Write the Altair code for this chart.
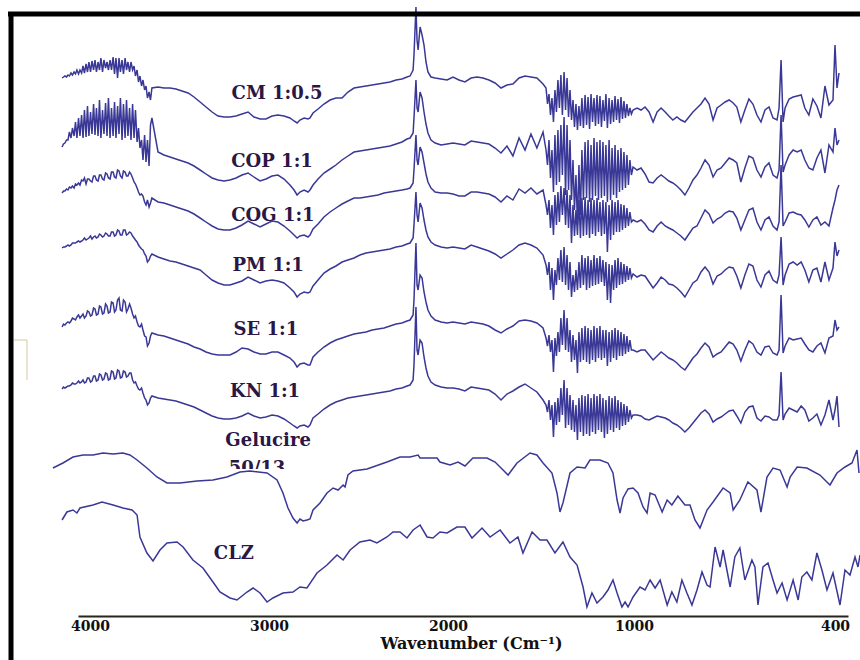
import altair as alt
import pandas as pd

# ---------------- data ----------------
# shared wavenumber grid (cm-1) for the six upper (stacked) spectra
wn_upper = [
    # 4160-3650 (noisy O-H region)
    4156, 4148, 4140, 4131, 4123, 4115, 4106, 4098, 4089, 4081, 4073, 4064, 4056, 4047, 4039, 4031,
    4022, 4014, 4006, 3997, 3989, 3980, 3972, 3964, 3955, 3947, 3939, 3930, 3922, 3913, 3905, 3897,
    3888, 3880, 3871, 3863, 3855, 3846, 3838, 3830, 3821, 3813, 3804, 3796, 3788, 3779, 3771, 3762,
    3754, 3746, 3737, 3729, 3721, 3712, 3704, 3695, 3687, 3679, 3670, 3662, 3654,
    # 3650-2210
    3620, 3587, 3553, 3520, 3486, 3452, 3419, 3385, 3352, 3318, 3285, 3251, 3218, 3184, 3151, 3117,
    3084, 3050, 3017, 2983, 2950, 2916, 2883, 2860, 2843, 2827, 2804, 2782, 2771, 2754, 2726, 2693,
    2659, 2626, 2592, 2559, 2525, 2492, 2458, 2424, 2391, 2357, 2324, 2290, 2257, 2229, 2212,
    # nitrile band
    2195, 2190, 2179, 2173, 2167, 2156, 2145, 2134, 2123, 2112, 2095, 2072,
    # 2040-1490
    2039, 2005, 1973, 1941, 1909, 1876, 1844, 1812, 1780, 1747, 1715, 1683, 1651, 1618, 1586, 1554,
    1522, 1489,
    # 1475-1005 (noisy fingerprint)
    1473, 1465, 1457, 1449, 1441, 1433, 1425, 1417, 1409, 1401, 1393, 1385, 1376, 1368, 1360, 1352,
    1344, 1336, 1328, 1320, 1312, 1304, 1296, 1288, 1280, 1272, 1263, 1255, 1247, 1239, 1231, 1223,
    1215, 1207, 1199, 1191, 1183, 1175, 1167, 1159, 1151, 1143, 1134, 1126, 1118, 1110, 1102, 1094,
    1086, 1078, 1070, 1062, 1054, 1046, 1038, 1030, 1022, 1014, 1005,
    # 1000-388
    991, 979, 967, 955, 943, 931, 919, 907, 896, 884, 872, 860, 848, 836, 824, 812, 800, 788, 776,
    764, 752, 740, 728, 716, 704, 693, 681, 669, 657, 645, 633, 621, 609, 597, 585, 573,
    567, 561, 555, 549,
    537, 525, 513, 501, 490, 478, 466, 454, 442, 430, 418, 406,
    400, 394, 388,
]

# stacked absorbance-like values (arbitrary units, larger = lower on the page)
cm_05 = [
    78, 77, 76, 77, 75, 76, 73, 75, 72, 74, 70, 74, 70, 73, 66, 73, 64, 72, 62, 72, 61, 70, 60, 72,
    62, 70, 58, 72, 60, 68, 62, 70, 60, 70, 57, 74, 58, 78, 58, 72, 60, 74, 58, 70, 62, 72, 62, 70,
    66, 76, 70, 82, 76, 86, 80, 90, 86, 98, 92, 100, 88,
    87, 88, 88, 89, 91, 93, 97, 102, 107, 112, 116, 117, 117, 116, 114, 112, 117, 119, 119, 116,
    115, 116, 118, 121, 123, 120, 118, 119, 118, 113, 109, 104, 100, 98, 98, 92, 88, 87, 86, 85,
    84, 83, 82, 80, 79, 77, 76,
    70, 55, 7, 40, 50, 27, 35, 45, 62, 72, 77, 78,
    79, 80, 77, 80, 82, 78, 77, 78, 80, 83, 88, 85, 84, 78, 76, 77, 78, 84,
    88, 104, 94, 115, 98, 122, 90, 112, 80, 108, 75, 115, 72, 110, 78, 117, 90, 120, 100, 127,
    104, 130, 106, 126, 98, 128, 95, 125, 97, 129, 94, 122, 98, 126, 95, 124, 96, 127, 100, 121,
    94, 128, 98, 124, 100, 122, 96, 120, 99, 123, 97, 119, 101, 118, 104, 116, 108, 114, 110,
    108, 110, 107, 112, 122, 112, 108, 112, 116, 120, 117, 120, 122, 117, 112, 108, 104, 98, 104,
    120, 108, 105, 102, 100, 103, 107, 122, 110, 99, 104, 115, 122, 110, 107, 118, 120,
    108, 60, 122, 108,
    99, 97, 96, 95, 108, 115, 99, 106, 118, 86, 105, 100,
    45, 88, 73,
]
cop_11 = [
    147, 144, 143, 140, 140, 132, 138, 128, 136, 122, 138, 118, 136, 115, 138, 110, 137, 106, 136,
    112, 134, 104, 135, 108, 136, 100, 138, 110, 134, 103, 136, 98, 138, 108, 136, 102, 138, 106,
    134, 98, 140, 104, 138, 100, 136, 108, 140, 104, 138, 110, 142, 128, 148, 140, 160, 135, 162,
    140, 166, 125, 118,
    152, 155, 157, 159, 161, 163, 166, 170, 174, 178, 180, 181, 180, 178, 175, 173, 177, 181, 179,
    176, 175, 179, 185, 190, 195, 192, 190, 192, 190, 185, 179, 173, 169, 165, 160, 156, 152, 151,
    150, 149, 148, 147, 146, 144, 142, 139, 138,
    133, 118, 80, 108, 112, 92, 98, 112, 124, 133, 140, 143,
    145, 144, 143, 144, 145, 141, 142, 143, 144, 148, 153, 146, 156, 138, 150, 134, 148, 132,
    150, 165, 140, 178, 150, 192, 135, 185, 130, 182, 125, 175, 117, 195, 125, 190, 140, 200, 160,
    210, 175, 225, 165, 215, 150, 200, 142, 198, 140, 202, 145, 200, 138, 196, 142, 200, 140, 198,
    142, 196, 145, 202, 140, 200, 148, 195, 145, 198, 150, 192, 148, 190, 152, 188, 155, 185, 160,
    175, 167,
    170, 168, 174, 182, 183, 178, 175, 178, 181, 183, 186, 190, 195, 188, 180, 175, 168, 160, 165,
    177, 170, 168, 163, 158, 160, 163, 182, 168, 156, 158, 170, 177, 167, 163, 175, 178,
    170, 115, 172, 165,
    155, 150, 152, 150, 160, 168, 170, 158, 150, 173, 145, 152,
    128, 145, 140,
]
cog_11 = [
    193, 191, 191, 189, 190, 187, 188, 186, 188, 184, 185, 183, 185, 180, 181, 178, 184, 179, 179,
    181, 182, 176, 176, 180, 181, 175, 175, 179, 180, 173, 174, 178, 179, 172, 172, 177, 178, 170,
    171, 176, 178, 171, 172, 176, 176, 172, 174, 178, 182, 184, 188, 192, 195, 194, 196, 202, 205,
    200, 207, 203, 198,
    202, 203, 205, 207, 209, 211, 214, 218, 222, 226, 229, 230, 230, 228, 225, 221, 224, 227, 224,
    221, 222, 226, 231, 235, 238, 236, 235, 237, 235, 229, 224, 217, 212, 208, 204, 201, 198, 198,
    197, 196, 195, 193, 192, 191, 190, 189, 188,
    183, 170, 135, 160, 165, 147, 152, 163, 174, 182, 188, 192,
    193, 193, 194, 196, 196, 192, 192, 193, 194, 197, 202, 196, 200, 189, 193, 188, 194, 190,
    205, 215, 200, 228, 205, 235, 195, 225, 192, 222, 186, 215, 188, 225, 190, 228, 195, 243, 205,
    236, 210, 235, 200, 238, 198, 236, 197, 235, 200, 238, 198, 234, 200, 236, 198, 232, 202, 236,
    200, 234, 202, 252, 205, 240, 200, 235, 202, 232, 200, 232, 204, 230, 205, 228, 208, 226, 212,
    222, 220,
    222, 220, 224, 230, 232, 226, 222, 226, 228, 230, 233, 236, 240, 234, 228, 226, 218, 210, 214,
    223, 219, 217, 213, 211, 212, 218, 230, 220, 210, 208, 222, 230, 220, 217, 226, 230,
    222, 165, 226, 222,
    213, 212, 214, 215, 220, 227, 220, 217, 225, 222, 226, 208,
    200, 190, 185,
]
pm_11 = [
    248, 247, 247, 246, 245, 246, 245, 243, 243, 243, 242, 241, 242, 241, 240, 238, 240, 239, 238,
    236, 239, 237, 236, 238, 237, 234, 235, 237, 236, 233, 234, 236, 236, 232, 232, 236, 235, 230,
    231, 235, 235, 230, 230, 235, 234, 232, 233, 236, 238, 240, 242, 245, 247, 249, 250, 254, 256,
    262, 260, 256, 254,
    257, 259, 261, 262, 264, 266, 268, 270, 275, 280, 283, 285, 285, 283, 281, 277, 280, 283, 281,
    280, 281, 283, 288, 292, 297, 294, 292, 293, 292, 286, 280, 273, 269, 266, 262, 260, 258, 255,
    253, 252, 251, 250, 249, 247, 246, 244, 243,
    238, 225, 192, 215, 222, 203, 208, 220, 230, 237, 242, 245,
    247, 248, 247, 248, 249, 245, 247, 249, 251, 254, 258, 254, 250, 245, 243, 245, 248, 255,
    265, 275, 262, 290, 268, 300, 270, 285, 258, 280, 250, 282, 247, 285, 255, 290, 262, 297, 275,
    292, 270, 290, 262, 288, 255, 285, 258, 290, 256, 288, 260, 286, 255, 285, 258, 284, 256, 282,
    260, 286, 262, 300, 264, 303, 265, 290, 260, 288, 258, 285, 262, 284, 264, 282, 266, 280, 268,
    278, 274,
    277, 275, 276, 282, 288, 283, 277, 280, 284, 285, 288, 292, 297, 290, 283, 280, 272, 267, 272,
    284, 276, 274, 270, 267, 268, 276, 288, 275, 264, 266, 280, 287, 275, 271, 280, 283,
    275, 237, 285, 275,
    264, 262, 265, 262, 270, 282, 270, 268, 282, 262, 280, 268,
    242, 256, 250,
]
se_11 = [
    327, 324, 325, 323, 322, 323, 321, 318, 319, 320, 317, 315, 318, 316, 314, 318, 316, 311, 312,
    316, 315, 308, 309, 315, 314, 306, 307, 314, 313, 304, 306, 313, 312, 302, 303, 312, 310, 300,
    298, 310, 311, 300, 302, 312, 309, 304, 308, 314, 318, 316, 322, 326, 327, 324, 330, 336, 337,
    346, 343, 336, 333,
    335, 336, 338, 340, 342, 344, 347, 349, 352, 354, 355, 355, 355, 352, 348, 349, 352, 354, 354,
    352, 352, 355, 358, 362, 367, 364, 363, 365, 365, 357, 352, 347, 343, 340, 338, 336, 334, 333,
    332, 330, 329, 328, 326, 324, 323, 321, 320,
    315, 300, 243, 285, 290, 275, 278, 292, 302, 310, 316, 320,
    322, 323, 322, 323, 324, 322, 323, 324, 326, 330, 333, 329, 326, 321, 320, 321, 323, 328,
    338, 346, 335, 352, 340, 372, 338, 356, 332, 352, 318, 345, 310, 350, 318, 352, 330, 362, 335,
    360, 340, 373, 332, 362, 328, 360, 326, 362, 328, 364, 330, 360, 326, 362, 328, 358, 326, 360,
    330, 358, 330, 366, 332, 362, 330, 358, 328, 360, 330, 356, 332, 356, 334, 354, 336, 352, 340,
    350, 350,
    352, 350, 350, 355, 360, 356, 352, 355, 358, 360, 363, 367, 370, 364, 358, 354, 348, 343, 347,
    357, 354, 352, 347, 342, 344, 350, 361, 350, 341, 344, 352, 355, 347, 346, 353, 355,
    350, 295, 353, 346,
    338, 340, 339, 338, 344, 350, 352, 346, 343, 353, 338, 336,
    320, 330, 327,
]
kn_11 = [
    389, 387, 388, 387, 386, 386, 385, 383, 384, 384, 383, 381, 383, 382, 380, 383, 382, 378, 378,
    382, 381, 376, 376, 381, 380, 374, 375, 380, 379, 373, 374, 380, 379, 371, 372, 379, 378, 370,
    371, 378, 377, 371, 372, 377, 376, 373, 373, 380, 383, 382, 386, 389, 390, 388, 393, 398, 400,
    405, 403, 398, 396,
    398, 399, 400, 401, 403, 405, 407, 410, 413, 416, 418, 419, 419, 418, 416, 413, 416, 418, 417,
    415, 416, 419, 423, 426, 428, 426, 425, 427, 425, 418, 414, 409, 405, 402, 400, 398, 397, 396,
    395, 394, 393, 392, 391, 389, 388, 386, 385,
    380, 365, 307, 350, 355, 340, 343, 357, 368, 376, 382, 385,
    387, 388, 388, 389, 391, 387, 388, 389, 390, 394, 400, 394, 391, 387, 384, 388, 392, 400,
    405, 412, 400, 420, 405, 437, 402, 425, 398, 422, 388, 415, 380, 428, 388, 425, 395, 430, 400,
    432, 405, 440, 398, 432, 395, 436, 396, 434, 394, 436, 398, 432, 394, 434, 396, 430, 394, 432,
    398, 438, 400, 434, 396, 430, 398, 432, 396, 428, 400, 430, 402, 426, 404, 425, 406, 422, 410,
    418, 415,
    415, 416, 419, 420, 418, 416, 417, 418, 420, 423, 425, 428, 432, 428, 423, 418, 413, 410, 414,
    422, 419, 417, 414, 411, 410, 416, 423, 412, 407, 406, 418, 421, 416, 417, 420, 420,
    415, 372, 420, 414,
    408, 410, 412, 406, 410, 421, 418, 414, 425, 415, 400, 420,
    410, 396, 427,
]

wn_gelucire = [
    4207, 4151, 4095, 4039, 3983, 3927, 3871, 3816, 3777, 3737, 3682, 3626, 3570, 3497, 3402, 3313,
    3235, 3162, 3106, 3011, 2955, 2922, 2894, 2866, 2843, 2827, 2810, 2788, 2771, 2754, 2715, 2676,
    2642, 2614, 2586, 2575, 2559, 2531, 2452, 2341, 2268, 2212, 2167, 2156, 2117, 2061, 2045, 1989,
    1946, 1909, 1866, 1790, 1747, 1704, 1677, 1629, 1559, 1522, 1489, 1441, 1414, 1398, 1382, 1344,
    1306, 1263, 1237, 1183, 1140, 1113, 1091, 1075, 1059, 1032, 1005, 988, 973, 961, 952, 937, 916,
    901, 887, 869, 848, 833, 818, 803, 782, 764, 734, 713, 704, 684, 660, 633, 621, 603, 585, 564,
    543, 534, 513, 484, 445, 415, 394, 370, 349, 334, 328,
]
gelucire_50_13 = [
    468, 463, 457, 455, 455, 453, 454, 453, 455, 460, 468, 477, 483, 483, 481, 480,
    477, 472, 471, 473, 480, 493, 508, 518, 523, 519, 521, 520, 519, 510, 503, 493,
    488, 490, 485, 487, 475, 471, 469, 462, 457, 457, 455, 458, 458, 458, 462, 465,
    462, 466, 458, 458, 462, 470, 475, 463, 453, 455, 463, 473, 493, 512, 503, 473,
    467, 468, 460, 460, 463, 473, 500, 513, 498, 489, 488, 493, 507, 513, 493, 495, 512,
    500, 505, 496, 505, 505, 520, 528, 510, 502, 488, 493, 510, 500, 482, 490, 512, 477, 468, 470,
    487, 477, 467, 468, 475, 485, 473, 467, 463, 450, 473,
]

wn_clz = [
    4156, 4129, 4095, 4073, 4056, 3983, 3933, 3871, 3816, 3765, 3737, 3721, 3682, 3648, 3609, 3570,
    3514, 3480, 3425, 3369, 3313, 3274, 3218, 3179, 3123, 3089, 3050, 3011, 2978, 2922, 2866, 2827,
    2788, 2732, 2676, 2620, 2586, 2547, 2492, 2436, 2397, 2341, 2307, 2268, 2229, 2195, 2156, 2117,
    2084, 2045, 2005, 1952, 1909, 1871, 1817, 1774, 1720, 1667, 1624, 1597, 1548, 1505, 1468, 1425,
    1382, 1344, 1306, 1274, 1253, 1226, 1199, 1167, 1140, 1113, 1091, 1065, 1048, 1032, 1005, 982,
    967, 952, 937, 922, 901, 887, 872, 857, 842, 827, 812, 797, 782, 773, 758, 743, 734, 713, 699,
    684, 669, 648, 639, 630, 615, 600, 585, 573, 558, 543, 525, 510, 499, 484, 469, 454, 439, 424,
    406, 385, 370, 355, 340, 331, 325,
]
clz = [
    520, 512, 510, 513, 508, 505, 502, 505, 508, 510, 515, 537, 553, 561, 550, 543,
    542, 547, 560, 568, 582, 592, 598, 600, 592, 588, 593, 602, 598, 593, 592, 587,
    588, 573, 565, 555, 560, 550, 542, 540, 543, 537, 532, 532, 538, 530, 525, 537,
    538, 532, 533, 527, 527, 538, 528, 537, 530, 543, 537, 553, 532, 540, 540, 553,
    542, 557, 565, 587, 607, 593, 603, 597, 590, 580, 593, 607, 602, 607, 597, 587,
    590, 580, 588, 580, 605, 592, 602, 580, 593, 605, 590, 572, 585, 587, 547, 567, 550, 587, 557,
    548, 580, 560, 567, 605, 567, 563, 580, 593, 583, 600, 580, 600, 577, 572, 580, 553, 570, 590,
    573, 605, 570, 575, 557, 567, 555,
]

# sample labels placed beside the curves
label_text = ["CM 1:0.5", "COP 1:1", "COG 1:1", "PM 1:1", "SE 1:1", "KN 1:1", "Gelucire", "50/13", "CLZ"]
label_wn = [2955, 2983, 2978, 3005, 3017, 3022, 3005, 3067, 3196]
label_pos = [94, 162, 216, 266, 330, 392, 441, 469, 554]

tick_values = [4000, 3000, 2000, 1000, 400]

# ---------------- build table ----------------
series = [
    ("CM 1:0.5", wn_upper, cm_05),
    ("COP 1:1", wn_upper, cop_11),
    ("COG 1:1", wn_upper, cog_11),
    ("PM 1:1", wn_upper, pm_11),
    ("SE 1:1", wn_upper, se_11),
    ("KN 1:1", wn_upper, kn_11),
    ("Gelucire 50/13", wn_gelucire, gelucire_50_13),
    ("CLZ", wn_clz, clz),
]
frames = [pd.DataFrame({"wavenumber": w, "absorbance": v, "sample": n}) for n, w, v in series]
df = pd.concat(frames, ignore_index=True)
labels = pd.DataFrame({"wavenumber": label_wn, "absorbance": label_pos, "text": label_text})

LINE = "#3a3896"
SERIF = "DejaVu Serif"

x_scale = alt.Scale(domain=[4067, 4000, 2000, 1000, 400, 361],
                    range=[0, 12, 370, 556, 757, 770], nice=False, zero=False)
y_scale = alt.Scale(domain=[0, 616], reverse=True, nice=False, zero=False)

x_axis = alt.Axis(values=tick_values, format="d", grid=False, ticks=False,
                  labelFont=SERIF, labelFontWeight="bold", labelFontSize=14, labelColor="#111111",
                  labelPadding=3, labelFlush=False, labelOverlap=False,
                  domainColor="#26261a", domainWidth=2,
                  title="Wavenumber (Cm\u207b\u00b9)", titleFont=SERIF, titleFontWeight="bold",
                  titleFontSize=16, titleColor="#111111", titlePadding=2, titleX=393)

text_layer = alt.Chart(labels).mark_text(
    font=SERIF, fontWeight="bold", fontSize=18, color="#2b1745", align="center", baseline="middle"
).encode(
    x=alt.X("wavenumber:Q", scale=x_scale, axis=x_axis),
    y=alt.Y("absorbance:Q", scale=y_scale, axis=None),
    text="text:N",
)

one = pd.DataFrame({"k": [0]})
mask = alt.Chart(one).mark_rect(color="white").encode(
    x=alt.value(144), x2=alt.value(218), y=alt.value(469), y2=alt.value(484)
)

lines = alt.Chart(df).mark_line(color=LINE, strokeWidth=1.5).encode(
    x=alt.X("wavenumber:Q", scale=x_scale, axis=x_axis),
    y=alt.Y("absorbance:Q", scale=y_scale, axis=None),
    detail="sample:N",
)

top_border = alt.Chart(one).mark_rule(color="black", strokeWidth=5).encode(
    x=alt.value(-70), x2=alt.value(782), y=alt.value(14)
)
left_border = alt.Chart(one).mark_rule(color="black", strokeWidth=5).encode(
    x=alt.value(-67), y=alt.value(12), y2=alt.value(660)
)
tan_h = alt.Chart(one).mark_rule(color="#d8c8a0", strokeWidth=1).encode(
    x=alt.value(-64), x2=alt.value(-51), y=alt.value(340)
)
tan_v = alt.Chart(one).mark_rule(color="#d8c8a0", strokeWidth=1).encode(
    x=alt.value(-51), y=alt.value(340), y2=alt.value(380)
)

chart = alt.layer(text_layer, mask, lines, top_border, left_border, tan_h, tan_v).properties(
    width=770, height=616,
    padding={"left": 78, "right": 12, "top": 0, "bottom": 44},
    autosize=alt.AutoSizeParams(type="none"),
    background="white",
).configure_view(stroke=None)

chart.save("out.html", embed_options={"renderer": "svg", "actions": False})
